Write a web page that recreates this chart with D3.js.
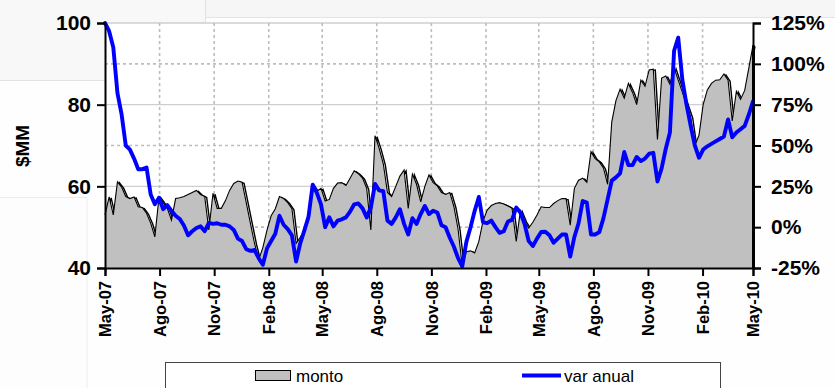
<!DOCTYPE html>
<html>
<head>
<meta charset="utf-8">
<script src="https://cdn.jsdelivr.net/npm/d3@7"></script>
<style>
  html, body { margin: 0; padding: 0; background: #fefefe; }
  svg { display: block; }
  text { font-family: "Liberation Sans", Arial, sans-serif; }
</style>
</head>
<body>
<svg id="chart" width="835" height="388"></svg>
<script>
// Weekly series, May-2007 to May-2010
const startDate = new Date(2007, 4, 1);
const weeks = d3.range(157).map(i => d3.timeDay.offset(startDate, 7 * i));

// monto ($MM, left axis)
const monto = [
  53, 57.4, 53, 61.1, 59.8, 57.5, 57, 57.4, 55, 54.8,
  53.4, 51, 47.6, 57.4, 56, 54.6, 51.7, 57, 57.2, 57.5,
  58, 58.5, 59, 58, 57.5, 49.3, 58.3, 54.6, 54.6, 56.5,
  59, 60.7, 61.3, 61, 56, 51, 46, 42, 45, 49.3,
  52.8, 54.5, 57.5, 57, 56, 54.5, 46, 47.5, 49.2, 51.5,
  60.3, 58.8, 59.5, 56.4, 56.8, 59.5, 60.8, 60.9, 60.2, 62,
  63.8, 63.1, 62, 59.5, 49.3, 72.4, 69.3, 65.5, 58.5, 57.5,
  60, 62.5, 64, 54.6, 63, 60.5, 56.2, 60, 62.8, 60.9,
  60.1, 58.5, 58, 58.5, 55, 49.5, 40.5, 44, 44.2, 43.7,
  46.5, 51.5, 54.2, 55.3, 55.8, 56, 55.7, 55.2, 54.6, 46.5,
  54, 51.5, 49.8, 51.2, 53, 55, 54.8, 54.8, 55.8, 56.5,
  57, 57, 50.5, 59.5, 61.5, 62, 61, 68.5, 66.8, 66,
  64.5, 60.5, 75.8, 81, 83.8, 81.6, 85.2, 83, 80, 86,
  84.5, 88.5, 88.7, 71.5, 86.5, 87, 85, 89, 86, 83,
  80, 77, 70, 72.5, 80, 83.6, 85.2, 86, 86.1, 87.5,
  86, 76, 83.3, 81.3, 83.5, 89, 94.5
];

// var anual (%, right axis)
const varAnual = [
  125, 120, 110, 82, 69, 50, 47.5, 42, 35.5, 35.5,
  36.5, 20, 14, 18, 11, 13.5, 10, 7, 5, 1,
  -5, -2.5, -0.5, 0.5, -2.5, 2.6, 2, 2.4, 1.5, 1.5,
  0.5, -1.7, -7, -8.5, -13.5, -14.5, -14, -19, -23, -13,
  -8.5, -4, 7, 1.5, -1.2, -5, -21, -10, -2, 6.5,
  26, 21, 14, 0, 6, 0.5, 4, 4.8, 6, 9.5,
  14, 14.5, 11.5, 6, 12, 26.5, 22.5, 22, 4, 2,
  6, 11, 2, -4.5, 5.5, 2, 8, 13, 8, 10,
  9, 1.2, 0, -6.5, -12, -19, -24, -9, 0, 10,
  18.5, 3, 2.5, 4, 0, -3.5, -2.5, 3.5, 4.5, 12,
  9, 2, -8.5, -11.5, -7, -3, -2.8, -5, -9.5, -7,
  -4.5, -4.5, -18, -6, 2.4, 16, 15, -4.5, -4.5, -3,
  5.5, 17, 28.5, 30.5, 33, 46, 38, 38, 43, 40.5,
  42, 45, 45.5, 28, 36, 48, 58, 108, 116, 90,
  75, 62, 50, 42.5, 47.5, 49.5, 51, 52.5, 54, 55.5,
  66, 55, 58, 60, 62, 69, 77
];

// Axis ticks
const leftTicks = [40, 60, 80, 100];
const rightTicks = [-25, 0, 25, 50, 75, 100, 125];
const monthNames = ["Ene","Feb","Mar","Abr","May","Jun","Jul","Ago","Sep","Oct","Nov","Dic"];
const xTickDates = d3.range(13).map(i => new Date(2007, 4 + 3 * i, 1));

const svg = d3.select("#chart");
const m = { left: 105, right: 753, top: 23, bottom: 268 };

// Page background panels
svg.append("rect").attr("x", 0).attr("y", 0).attr("width", 835).attr("height", 17).attr("fill", "#f6f6f6");
svg.append("line").attr("x1", 0).attr("x2", 835).attr("y1", 17.5).attr("y2", 17.5).attr("stroke", "#e4e4e4");
svg.append("rect").attr("x", -1).attr("y", -1).attr("width", 206.5).attr("height", 81.5)
  .attr("fill", "#f8f8f8").attr("stroke", "#e2e2e2");
svg.append("rect").attr("x", -1).attr("y", 197.5).attr("width", 88).attr("height", 200)
  .attr("fill", "#fdfdfd").attr("stroke", "#ececec");
svg.append("rect").attr("x", m.left).attr("y", m.top).attr("width", m.right - m.left).attr("height", m.bottom - m.top)
  .attr("fill", "#ffffff");

const x = d3.scaleTime()
  .domain([weeks[0], weeks[weeks.length - 1]])
  .range([m.left, m.right]).clamp(true);
const yL = d3.scaleLinear().domain([40, 100]).range([m.bottom, m.top]);
const yR = d3.scaleLinear().domain([-25, 125]).range([m.bottom, m.top]);

// Gridlines
const grid = svg.append("g");
[90, 70, 50].forEach(v => {
  grid.append("line").attr("x1", m.left).attr("x2", m.right)
    .attr("y1", yL(v)).attr("y2", yL(v))
    .attr("stroke", "#bdbdbd").attr("stroke-width", 1.6).attr("stroke-dasharray", "3,3");
});
[100, 80, 60].forEach(v => {
  grid.append("line").attr("x1", m.left).attr("x2", m.right)
    .attr("y1", yL(v)).attr("y2", yL(v))
    .attr("stroke", "#cfcfcf").attr("stroke-width", 1.3);
});
xTickDates.slice(1, -1).forEach(d => {
  grid.append("line").attr("x1", x(d)).attr("x2", x(d))
    .attr("y1", m.top).attr("y2", m.bottom)
    .attr("stroke", "#bdbdbd").attr("stroke-width", 1.6).attr("stroke-dasharray", "3,3");
});

// monto area with shaded outline
const montoLine = d3.line().x((d, i) => x(weeks[i])).y(d => yL(d));
const montoArea = d3.area().x((d, i) => x(weeks[i])).y0(m.bottom).y1(d => yL(d));

svg.append("path").datum(monto).attr("d", montoLine)
  .attr("transform", "translate(2,1)")
  .attr("fill", "none").attr("stroke", "#000").attr("stroke-width", 1.4);
svg.append("path").datum(monto).attr("d", montoArea).attr("fill", "#c0c0c0");
svg.append("path").datum(monto).attr("d", montoLine)
  .attr("fill", "none").attr("stroke", "#000").attr("stroke-width", 1.1);
svg.append("line")
  .attr("x1", x(weeks[weeks.length - 1]) + 0.5).attr("x2", x(weeks[weeks.length - 1]) + 0.5)
  .attr("y1", yL(monto[monto.length - 1])).attr("y2", m.bottom)
  .attr("stroke", "#000").attr("stroke-width", 3);

// var anual line
svg.append("path").datum(varAnual)
  .attr("d", d3.line().x((d, i) => x(weeks[i])).y(d => yR(d)))
  .attr("fill", "none").attr("stroke", "#0000ff").attr("stroke-width", 3.9)
  .attr("stroke-linejoin", "round").attr("stroke-linecap", "round");

// Left axis
const axL = svg.append("g").attr("transform", `translate(${m.left},0)`)
  .call(d3.axisLeft(yL).tickValues(leftTicks).tickSize(8).tickPadding(6).tickFormat(d3.format("d")));
axL.select(".domain").attr("stroke", "#000").attr("stroke-width", 2);
axL.selectAll(".tick line").attr("stroke", "#000").attr("stroke-width", 2);
axL.selectAll("text").attr("font-size", 21).attr("font-weight", "bold").attr("fill", "#000");

// Right axis
const axR = svg.append("g").attr("transform", `translate(${m.right},0)`)
  .call(d3.axisRight(yR).tickValues(rightTicks).tickSize(8).tickPadding(10).tickFormat(d => d + "%"));
axR.select(".domain").attr("stroke", "#000").attr("stroke-width", 2);
axR.selectAll(".tick line").attr("stroke", "#000").attr("stroke-width", 2);
axR.selectAll("text").attr("font-size", 21).attr("font-weight", "bold").attr("fill", "#000");

// Bottom axis
const axB = svg.append("g").attr("transform", `translate(0,${m.bottom})`)
  .call(d3.axisBottom(x).tickValues(xTickDates).tickSize(8)
    .tickFormat(d => monthNames[d.getMonth()] + "-" + d3.timeFormat("%y")(d)));
axB.select(".domain").attr("stroke", "#000").attr("stroke-width", 2);
axB.selectAll(".tick line").attr("stroke", "#000").attr("stroke-width", 2);
axB.selectAll("text")
  .attr("font-size", 16.5).attr("font-weight", "bold").attr("fill", "#000")
  .attr("text-anchor", "end")
  .attr("transform", "rotate(-90)")
  .attr("x", -13).attr("y", 0).attr("dy", "0.35em");

// Y title
svg.append("text")
  .attr("transform", "translate(29,146) rotate(-90)")
  .attr("text-anchor", "middle")
  .attr("font-size", 19).attr("font-weight", "bold").attr("fill", "#000")
  .text("$MM");

// Legend
const lg = svg.append("g");
lg.append("rect").attr("x", 165.5).attr("y", 362.5).attr("width", 555).attr("height", 40)
  .attr("fill", "#ffffff").attr("stroke", "#444").attr("stroke-width", 1);
lg.append("rect").attr("x", 255.5).attr("y", 370.5).attr("width", 35).attr("height", 10)
  .attr("fill", "#c0c0c0").attr("stroke", "#000").attr("stroke-width", 1);
lg.append("text").attr("x", 296).attr("y", 382).attr("font-size", 17).attr("fill", "#000").text("monto");
lg.append("line").attr("x1", 522).attr("x2", 561).attr("y1", 375.5).attr("y2", 375.5)
  .attr("stroke", "#0000ff").attr("stroke-width", 4);
lg.append("text").attr("x", 564).attr("y", 382).attr("font-size", 17).attr("fill", "#000").text("var anual");
</script>
</body>
</html>
